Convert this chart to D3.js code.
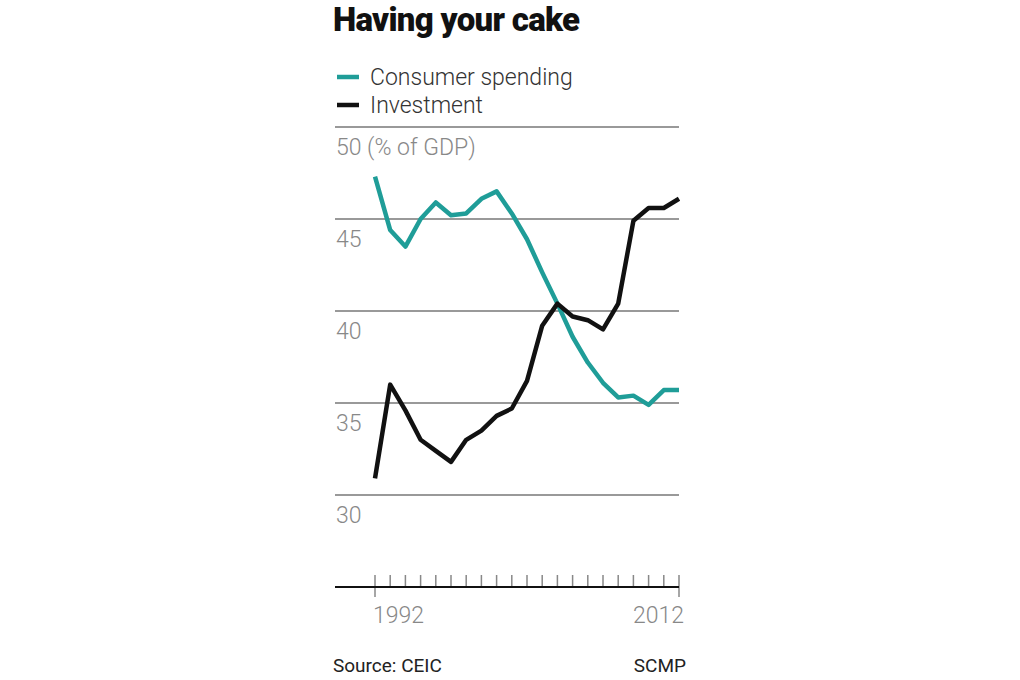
<!DOCTYPE html>
<html>
<head>
<meta charset="utf-8">
<script src="https://cdn.jsdelivr.net/npm/d3@7"></script>
<style>
  body { margin: 0; background: #fff; }
  text { font-family: Roboto, "DejaVu Sans", sans-serif; }
</style>
</head>
<body>
<div id="chart"></div>
<script>
// values, % of GDP
var years = d3.range(1992, 2013);
var consumerSpending = [47.3, 44.4, 43.5, 45.0, 45.9, 45.2, 45.3, 46.1, 46.5, 45.3,
                        43.9, 42.1, 40.4, 38.6, 37.2, 36.1, 35.3, 35.4, 34.9, 35.7, 35.7];
var investment = [30.9, 36.0, 34.6, 33.0, 32.4, 31.8, 33.0, 33.5, 34.3, 34.7,
                  36.2, 39.2, 40.4, 39.7, 39.5, 39.0, 40.4, 44.9, 45.6, 45.6, 46.1];
var yTicks = [50, 45, 40, 35, 30];
var xLabels = [1992, 2012];

var width = 1020, height = 680;
var left = 335, right = 679;

var svg = d3.select("#chart").append("svg")
    .attr("width", width)
    .attr("height", height);

var x = d3.scaleLinear().domain([1992, 2012]).range([375, 679]);
var y = d3.scaleLinear().domain([25, 50]).range([587, 127]);

// title
svg.append("text")
    .attr("x", 333)
    .attr("y", 31)
    .attr("font-size", 33)
    .attr("font-weight", 900)
    .attr("letter-spacing", -0.7)
    .attr("fill", "#111")
    .text("Having your cake");

// legend
var legend = [
    {name: "Consumer spending", color: "#1f9d98"},
    {name: "Investment", color: "#111"}
];
var leg = svg.selectAll(".leg")
    .data(legend)
    .enter()
    .append("g")
    .attr("class", "leg")
    .attr("transform", function(d, i) {return "translate(0," + (i * 28) + ")";});

leg.append("line")
    .attr("x1", 337).attr("x2", 359)
    .attr("y1", 77).attr("y2", 77)
    .attr("stroke", function(d) {return d.color;})
    .attr("stroke-width", 4.5);

leg.append("text")
    .attr("x", 370)
    .attr("y", 85)
    .attr("font-size", 23)
    .attr("font-weight", 300)
    .attr("fill", "#333")
    .text(function(d) {return d.name;});

// gridlines + y labels
svg.selectAll(".grid")
    .data(yTicks)
    .enter()
    .append("line")
    .attr("class", "grid")
    .attr("x1", left).attr("x2", right)
    .attr("y1", function(d) {return y(d);})
    .attr("y2", function(d) {return y(d);})
    .attr("stroke", "#999")
    .attr("stroke-width", 2);

svg.selectAll(".ylab")
    .data(yTicks)
    .enter()
    .append("text")
    .attr("class", "ylab")
    .attr("x", 336)
    .attr("y", function(d) {return y(d) + 28;})
    .attr("font-size", 23)
    .attr("font-weight", 300)
    .attr("fill", "#888")
    .text(function(d) {return d === 50 ? d + " (% of GDP)" : d;});

// lines
var line = d3.line()
    .x(function(d, i) {return x(years[i]);})
    .y(function(d) {return y(d);});

svg.append("path")
    .datum(consumerSpending)
    .attr("d", line)
    .attr("fill", "none")
    .attr("stroke", "#1f9d98")
    .attr("stroke-width", 4.5)
    .attr("stroke-linejoin", "round");

svg.append("path")
    .datum(investment)
    .attr("d", line)
    .attr("fill", "none")
    .attr("stroke", "#111")
    .attr("stroke-width", 4.5)
    .attr("stroke-linejoin", "round");

// x axis
var axisY = y(25);
svg.selectAll(".tick")
    .data(years)
    .enter()
    .append("line")
    .attr("class", "tick")
    .attr("x1", function(d) {return x(d);})
    .attr("x2", function(d) {return x(d);})
    .attr("y1", axisY - 12)
    .attr("y2", function(d) {return (d === 1992 || d === 2012) ? axisY + 10 : axisY;})
    .attr("stroke", "#888")
    .attr("stroke-width", 1.5);

svg.append("line")
    .attr("x1", left).attr("x2", right)
    .attr("y1", axisY).attr("y2", axisY)
    .attr("stroke", "#111")
    .attr("stroke-width", 2);

svg.selectAll(".xlab")
    .data(xLabels)
    .enter()
    .append("text")
    .attr("class", "xlab")
    .attr("x", function(d, i) {return i === 0 ? x(d) - 2 : x(d) + 5;})
    .attr("y", 623)
    .attr("text-anchor", function(d, i) {return i === 0 ? "start" : "end";})
    .attr("font-size", 23)
    .attr("font-weight", 300)
    .attr("fill", "#888")
    .text(function(d) {return d;});

// footer
svg.append("text")
    .attr("x", 333)
    .attr("y", 672)
    .attr("font-size", 19)
    .attr("fill", "#222")
    .text("Source: CEIC");

svg.append("text")
    .attr("x", 686)
    .attr("y", 672)
    .attr("text-anchor", "end")
    .attr("font-size", 19)
    .attr("fill", "#222")
    .text("SCMP");
</script>
</body>
</html>
